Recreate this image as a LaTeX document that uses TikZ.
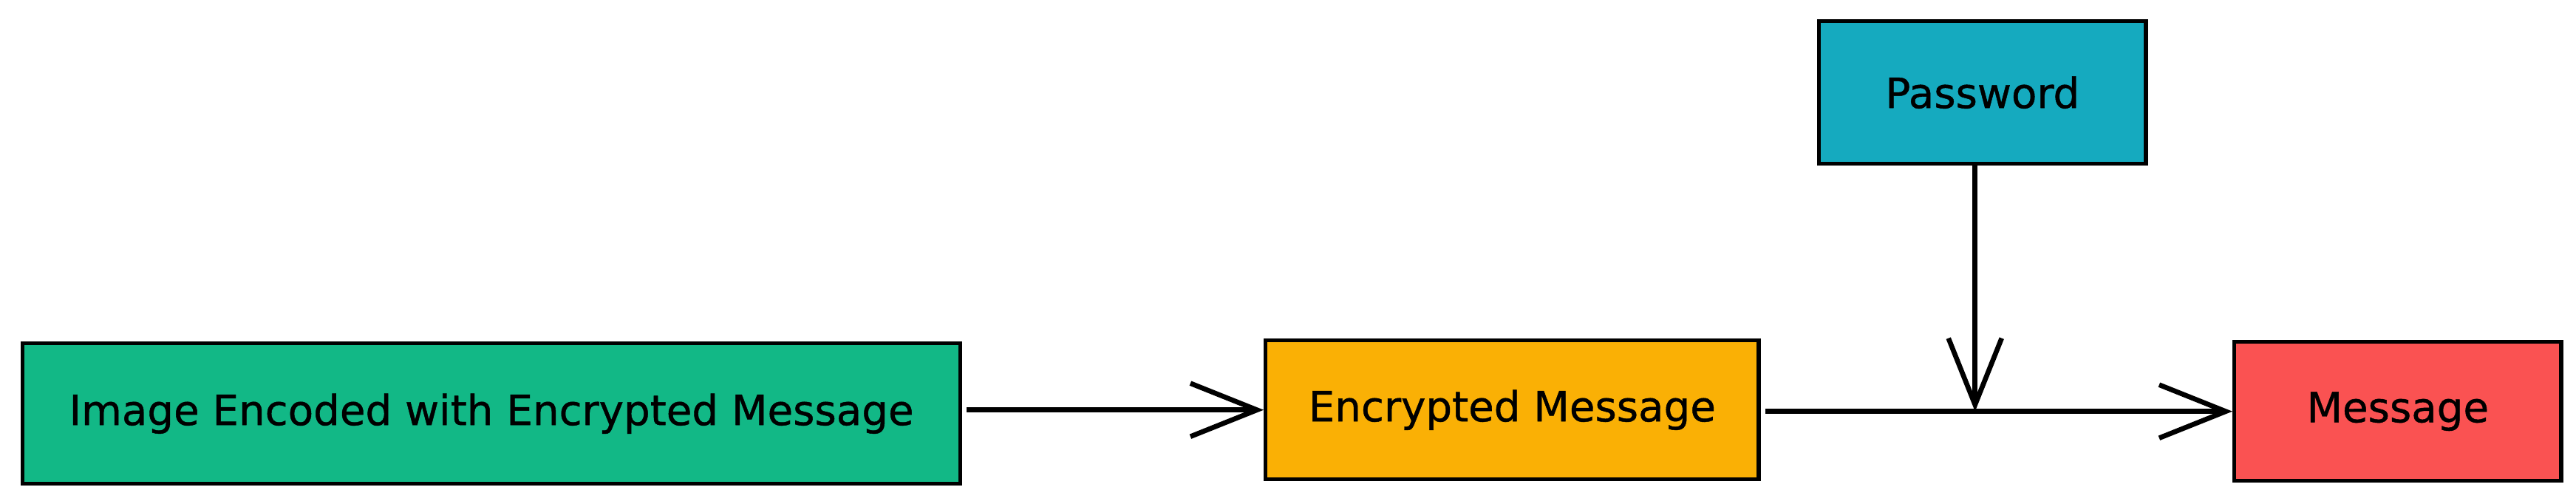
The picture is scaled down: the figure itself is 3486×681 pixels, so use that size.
\documentclass[tikz,border=0pt]{standalone}
\usepackage{fontspec}
\newfontfamily\handfont{DejaVu Sans}[FakeBold=0.8]
\usetikzlibrary{arrows.meta}
\definecolor{exgreen}{HTML}{12B886}
\definecolor{exorange}{HTML}{FAB005}
\definecolor{exblue}{HTML}{15AABF}
\definecolor{exred}{HTML}{FA5252}
\begin{document}
\begin{tikzpicture}[x=0.01cm,y=-0.01cm,
  box/.style={draw=black, line width=1.5pt, inner sep=0pt, anchor=north west,
    font=\handfont\fontsize{16}{19}\selectfont},
  conn/.style={line width=1.9pt, -{Straight Barb[length=0.9cm,width=0.72cm]}}]
\useasboundingbox (0,0) rectangle (3486,681);
\node[box, fill=exgreen, minimum width=12.68cm, minimum height=1.9cm] (img) at (28,462) {Image Encoded with Encrypted Message};
\node[box, fill=exorange, minimum width=6.67cm, minimum height=1.88cm] (enc) at (1710,458) {Encrypted Message};
\node[box, fill=exblue, minimum width=4.42cm, minimum height=1.93cm] (pw) at (2459,26) {Password};
\node[box, fill=exred, minimum width=4.42cm, minimum height=1.88cm] (msg) at (3021,460) {Message};
\coordinate (j) at ([xshift=-0.1cm]pw.south |- msg.west);
\draw[conn] ([xshift=0.06cm]img.east |- enc.west) -- (enc.west);
\draw[conn] ([xshift=0.06cm]enc.east |- msg.west) -- (msg.west);
\draw[conn] ([xshift=-0.1cm]pw.south) -- (j);
\end{tikzpicture}
\end{document}
